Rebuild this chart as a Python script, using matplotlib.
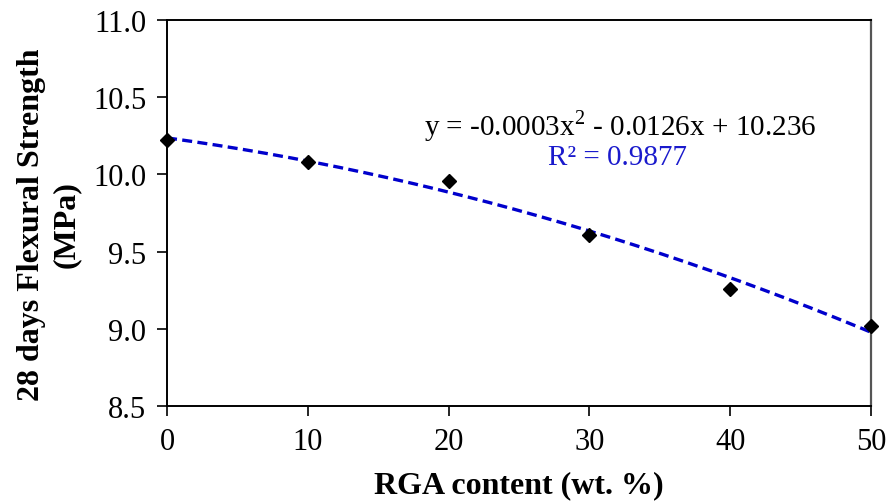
import matplotlib
matplotlib.use('Agg')
import matplotlib.pyplot as plt
import numpy as np

rga_content = [0, 10, 20, 30, 40, 50]
flexural_strength = [10.22, 10.08, 9.96, 9.61, 9.26, 9.02]
x_ticks = [0, 10, 20, 30, 40, 50]
y_ticks = [8.5, 9.0, 9.5, 10.0, 10.5, 11.0]
equation_text = 'y = -0.0003x$^2$ - 0.0126x + 10.236'
r2_text = 'R² = 0.9877'

plt.rcParams['font.family'] = ['Liberation Serif', 'DejaVu Serif']
plt.rcParams['mathtext.fontset'] = 'custom'
plt.rcParams['mathtext.rm'] = 'Liberation Serif'

fig = plt.figure(figsize=(8.89, 5.02), dpi=100)
ax = fig.add_axes([0.1879, 0.1892, 0.7919, 0.769])

# quadratic trendline, as in the spreadsheet
coef = np.polyfit(rga_content, flexural_strength, 2)
xs = np.linspace(0, 50, 200)
ax.plot(xs, np.polyval(coef, xs), color='#0000cc', linestyle=(0, (3, 1.6)), lw=2.4, zorder=2)
ax.plot(rga_content, flexural_strength, 'D', color='black', markersize=7.5, zorder=3, clip_on=False)

ax.set_xlim(0, 50)
ax.set_ylim(8.5, 11.0)
ax.set_xticks(x_ticks)
ax.set_yticks(y_ticks)
ax.set_yticklabels([f'{v:.1f}' for v in y_ticks])
ax.tick_params(axis='both', direction='out', length=7, width=1.2, labelsize=22, pad=8)
for side in ['left', 'bottom', 'top']:
    ax.spines[side].set_linewidth(1.4)
ax.spines['right'].set_color('#555555')
ax.spines['right'].set_linewidth(1.6)

ax.set_xlabel('RGA content (wt. %)', fontsize=23, fontweight='bold', labelpad=10)
ax.set_ylabel('28 days Flexural Strength\n(MPa)', fontsize=23, fontweight='bold',
              linespacing=1.25)
ax.yaxis.set_label_coords(-0.123, 0.472)

ax.text(0.643, 0.728, equation_text, transform=ax.transAxes, ha='center', va='center', fontsize=21)
ax.text(0.640, 0.645, r2_text, transform=ax.transAxes, ha='center', va='center', fontsize=21,
        color='#1a1acc')

fig.savefig('out.png', dpi=100)
